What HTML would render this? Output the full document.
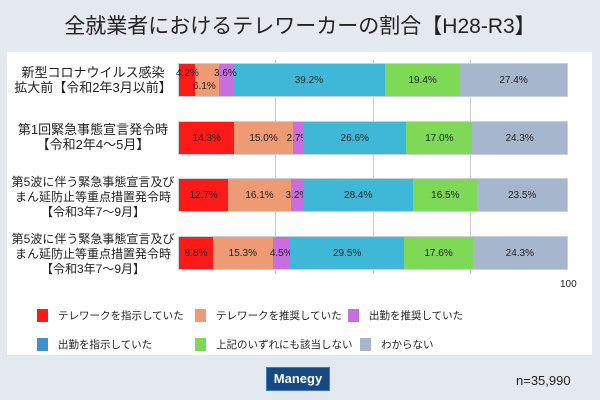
<!DOCTYPE html>
<html><head><meta charset="utf-8"><style>
*{margin:0;padding:0;box-sizing:border-box}
body{width:600px;height:400px;background:#e4e9f0;position:relative;overflow:hidden;font-family:"Liberation Sans","Noto Sans CJK JP",sans-serif;color:#222}
.abs{position:absolute}
.panel{left:7px;top:52px;width:585px;height:303px;background:#fff}
.title{left:0;top:10px;width:600px;text-align:center;font-size:21px}
.grid{width:1px;background:#ccc;top:60px;height:214px}
.bar{left:178px;width:390px;height:34px;display:flex;border:1px solid #c9d0da}
.bar div{height:100%;font-size:10px;display:flex;align-items:center;justify-content:center;white-space:nowrap;overflow:visible}
.lab{left:8px;width:170px;text-align:center;font-size:12px;line-height:15px}
.lg{font-size:10.5px;display:flex;align-items:center}
.lg span{display:inline-block;width:11px;height:13px;margin-right:10px}
</style></head><body>
<div class="abs title">全就業者におけるテレワーカーの割合【H28-R3】</div>
<div class="abs panel"></div>
<div class="abs grid" style="left:275px"></div>
<div class="abs grid" style="left:373px"></div>
<div class="abs grid" style="left:470px"></div>

<div class="abs lab" style="top:65px;font-size:13px">新型コロナウイルス感染<br>拡大前【令和2年3月以前】</div>
<div class="abs lab" style="top:122px;font-size:13px">第1回緊急事態宣言発令時<br>【令和2年4～5月】</div>
<div class="abs lab" style="top:175px">第5波に伴う緊急事態宣言及び<br>まん延防止等重点措置発令時<br>【令和3年7～9月】</div>
<div class="abs lab" style="top:232px">第5波に伴う緊急事態宣言及び<br>まん延防止等重点措置発令時<br>【令和3年7～9月】</div>

<div class="abs bar" style="top:63px">
<div style="width:4.2%;background:#ff1a1a"></div><div style="width:6.1%;background:#ee9a74"></div><div style="width:3.6%;background:#c86ee0"></div><div style="width:39.2%;background:#3fb8d8">39.2%</div><div style="width:19.4%;background:#7ed957">19.4%</div><div style="width:27.5%;background:#a6b6cc">27.4%</div>
</div>
<div class="abs" style="left:176px;top:68px;font-size:10px">4.2%</div>
<div class="abs" style="left:193px;top:81px;font-size:10px">6.1%</div>
<div class="abs" style="left:214px;top:68px;font-size:10px">3.6%</div>

<div class="abs bar" style="top:121px">
<div style="width:14.3%;background:#ff1a1a">14.3%</div><div style="width:15%;background:#ee9a74">15.0%</div><div style="width:2.7%;background:#c86ee0">2.7%</div><div style="width:26.6%;background:#3fb8d8">26.6%</div><div style="width:17%;background:#7ed957">17.0%</div><div style="width:24.4%;background:#a6b6cc">24.3%</div>
</div>
<div class="abs bar" style="top:178px">
<div style="width:12.7%;background:#ff1a1a">12.7%</div><div style="width:16.1%;background:#ee9a74">16.1%</div><div style="width:3.2%;background:#c86ee0">3.2%</div><div style="width:28.4%;background:#3fb8d8">28.4%</div><div style="width:16.5%;background:#7ed957">16.5%</div><div style="width:23.1%;background:#a6b6cc">23.5%</div>
</div>
<div class="abs bar" style="top:236px">
<div style="width:8.8%;background:#ff1a1a">8.8%</div><div style="width:15.3%;background:#ee9a74">15.3%</div><div style="width:4.5%;background:#c86ee0">4.5%</div><div style="width:29.5%;background:#3fb8d8">29.5%</div><div style="width:17.6%;background:#7ed957">17.6%</div><div style="width:24.3%;background:#a6b6cc">24.3%</div>
</div>
<div class="abs" style="left:560px;top:279px;font-size:10px">100</div>

<div class="abs lg" style="left:37px;top:308px"><span style="background:#ff1a1a"></span>テレワークを指示していた</div>
<div class="abs lg" style="left:195px;top:308px"><span style="background:#ee9a74"></span>テレワークを推奨していた</div>
<div class="abs lg" style="left:348px;top:308px"><span style="background:#c86ee0"></span>出勤を推奨していた</div>
<div class="abs lg" style="left:37px;top:337px"><span style="background:#3a92d0"></span>出勤を指示していた</div>
<div class="abs lg" style="left:195px;top:337px"><span style="background:#7ed957"></span>上記のいずれにも該当しない</div>
<div class="abs lg" style="left:360px;top:337px"><span style="background:#a6b6cc"></span>わからない</div>

<div class="abs" style="left:266px;top:367px;width:64px;height:24px;background:#174a80;border:1px solid #3a78c0;color:#fff;font-size:13px;font-weight:bold;text-align:center;line-height:22px">Manegy</div>
<div class="abs" style="left:516px;top:373px;font-size:13px">n=35,990</div>
</body></html>
